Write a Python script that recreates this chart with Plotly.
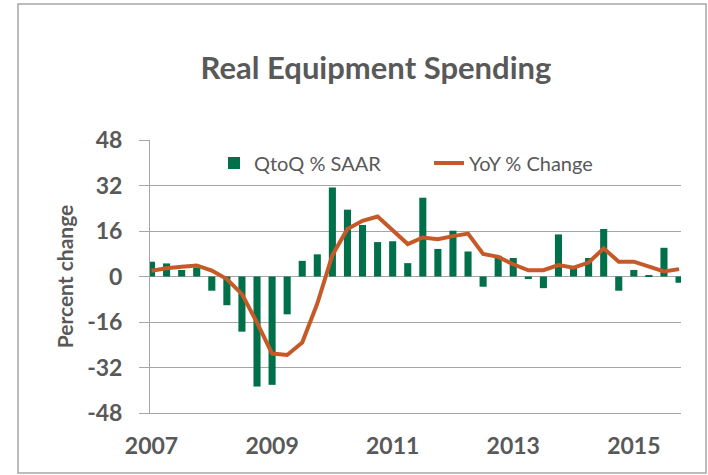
import plotly.graph_objects as go

# ---- data ----
quarters = [f"{y}Q{q}" for y in range(2007, 2016) for q in range(1, 5)]
qtoq_saar = [5.2, 4.6, 2.3, 3.2, -5.0, -10.1, -19.4, -38.7, -38.1, -13.3,
             5.5, 7.8, 31.3, 23.5, 18.1, 12.1, 12.4, 4.7, 27.7, 9.7,
             16.1, 8.8, -3.6, 7.3, 6.5, -0.9, -4.1, 14.8, 3.0, 6.5,
             16.7, -5.0, 2.3, 0.5, 10.1, -2.2]
yoy_change = [2.0, 2.9, 3.4, 3.9, 2.1, -0.9, -6.2, -16.2, -27.1, -27.6,
              -23.2, -9.5, 7.5, 16.7, 19.6, 21.1, 16.3, 11.4, 13.7, 13.1,
              14.2, 15.1, 7.9, 6.9, 4.3, 2.2, 2.2, 4.0, 3.1, 4.9,
              9.9, 5.2, 5.2, 3.4, 1.8, 2.6]
x_tick_vals = ["2007Q1", "2009Q1", "2011Q1", "2013Q1", "2015Q1"]
x_tick_text = ["2007", "2009", "2011", "2013", "2015"]
y_tick_vals = [-48, -32, -16, 0, 16, 32, 48]
y_tick_text = ["-48", "-32", "-16", "0", "16", "32", "48"]

TXT = "#595959"
GRID = "#A6A6A6"
FONT = "Lato"

fig = go.Figure()
fig.add_trace(go.Bar(x=quarters, y=qtoq_saar, name="QtoQ % SAAR",
                     marker=dict(color="#00704A", line=dict(width=0))))
fig.add_trace(go.Scatter(x=quarters, y=yoy_change, name="YoY % Change",
                         mode="lines", line=dict(color="#C55A28", width=4)))

fig.update_layout(
    width=708, height=475,
    margin=dict(l=150, r=27, t=140, b=62),
    paper_bgcolor="white", plot_bgcolor="white",
    bargap=0.53,
    font=dict(family=FONT, color=TXT),
    title=dict(text="Real Equipment Spending", x=376/708, xanchor="center",
               y=1 - 68/475, yanchor="middle", xref="container", yref="container",
               font=dict(family=FONT, size=31, color=TXT, weight="bold")),
    legend=dict(orientation="h", x=(214 - 150) / 531, y=0.916, xanchor="left",
                yanchor="middle", font=dict(family=FONT, size=20, color=TXT),
                bgcolor="rgba(0,0,0,0)", entrywidth=170, entrywidthmode="pixels",
                traceorder="normal"),
    xaxis=dict(type="category", range=[-0.1, 35.13], tickvals=x_tick_vals,
               ticktext=x_tick_text, showgrid=False, showline=True,
               linecolor=GRID, linewidth=1, ticks="",
               tickfont=dict(family=FONT, size=23, color=TXT, weight="bold"),
               ticklabelstandoff=12),
    yaxis=dict(range=[-48, 48], tickvals=y_tick_vals, ticktext=y_tick_text,
               showgrid=True, gridcolor=GRID,
               gridwidth=1, zeroline=False, showline=True, linecolor=GRID,
               linewidth=1, ticks="outside", ticklen=10, tickcolor=GRID,
               tickfont=dict(family=FONT, size=23, color=TXT, weight="bold"),
               ticklabelstandoff=12,
               title=dict(text="Percent change", standoff=7,
                          font=dict(family=FONT, size=21, color=TXT, weight="bold"))),
    shapes=[dict(type="rect", xref="paper", yref="paper",
                 x0=-0.2486, x1=1.0471, y0=-0.2198, y1=1.4982,
                 line=dict(color="#A6A6A6", width=1.5), layer="below")],
)

fig.write_html("out.html", config={"displayModeBar": False},
               post_script="document.body.style.margin='0';")
